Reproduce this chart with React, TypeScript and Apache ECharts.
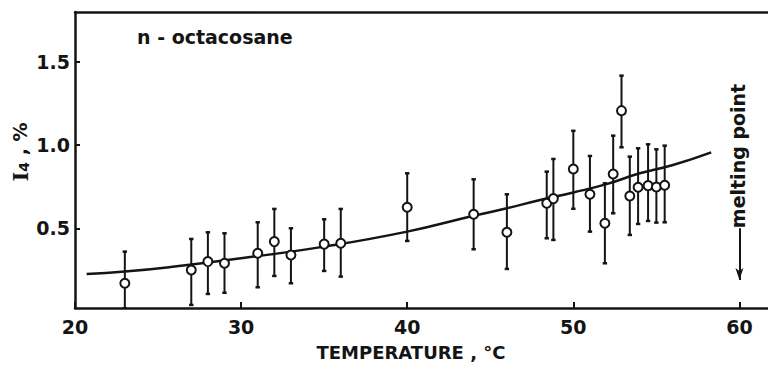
import React, { useEffect, useRef } from "react";
import * as echarts from "echarts";

const temps = [23, 27, 28, 29, 31, 32, 33, 35, 36, 40, 44, 46, 48.4, 48.8, 50, 51, 51.9, 52.4, 52.9, 53.4, 53.9, 54.5, 55, 55.5];
const values = [0.17, 0.25, 0.3, 0.29, 0.35, 0.42, 0.34, 0.405, 0.41, 0.626, 0.584, 0.476, 0.65, 0.678, 0.856, 0.704, 0.53, 0.826, 1.206, 0.694, 0.746, 0.756, 0.748, 0.758];
const errLow = [0.02, 0.04, 0.106, 0.113, 0.146, 0.214, 0.17, 0.244, 0.21, 0.424, 0.374, 0.256, 0.44, 0.43, 0.617, 0.48, 0.29, 0.59, 0.986, 0.46, 0.526, 0.544, 0.534, 0.536];
const errHigh = [0.36, 0.436, 0.476, 0.47, 0.536, 0.616, 0.5, 0.554, 0.616, 0.83, 0.794, 0.704, 0.84, 0.916, 1.085, 0.934, 0.77, 1.056, 1.416, 0.93, 0.98, 1.004, 0.974, 0.996];

const fitT = [20.7, 23, 26, 30, 35, 40, 44, 46, 48, 50, 52, 54, 56, 58.3];
const fitV = [0.226, 0.24, 0.27, 0.32, 0.39, 0.48, 0.575, 0.62, 0.67, 0.715, 0.765, 0.83, 0.88, 0.956];

const xTicks = [20, 30, 40, 50, 60];
const yTicks = [0.5, 1.0, 1.5];
const meltingT = 60;
const meltingArrow = [0.5, 0.19];

const FONT = "DejaVu Sans";
const INK = "#141414";

export default function App() {
  const ref = useRef<HTMLDivElement>(null);
  useEffect(() => {
    const chart = echarts.init(ref.current!, null, { renderer: "svg" });
    const errData = temps.map((t, i) => [t, errLow[i], errHigh[i]]);
    chart.setOption({
      animation: false,
      backgroundColor: "#fff",
      grid: { left: 75, right: 0, top: 12, bottom: 65 },
      xAxis: [
        {
          type: "value",
          min: 20,
          max: 61.72,
          interval: 10,
          axisLine: { show: true, lineStyle: { color: INK, width: 2.5 } },
          axisTick: { show: true, inside: true, length: 6, lineStyle: { color: INK, width: 2 }, customValues: xTicks },
          axisLabel: { color: INK, fontFamily: FONT, fontWeight: "bold", fontSize: 19, margin: 9, customValues: xTicks },
          splitLine: { show: false },
        },
        {
          type: "value",
          position: "top",
          min: 20,
          max: 61.72,
          axisLine: { show: true, lineStyle: { color: INK, width: 2.5 } },
          axisTick: { show: false },
          axisLabel: { show: false },
          splitLine: { show: false },
        },
      ],
      yAxis: {
        type: "value",
        min: 0.0216,
        max: 1.798,
        axisLine: { show: true, lineStyle: { color: INK, width: 2.5 } },
        axisTick: { show: true, inside: true, length: 5, lineStyle: { color: INK, width: 2 }, customValues: yTicks },
        axisLabel: {
          color: INK,
          fontFamily: FONT,
          fontWeight: "bold",
          fontSize: 19,
          margin: 5,
          customValues: yTicks,
          formatter: (v: number) => v.toFixed(1),
        },
        splitLine: { show: false },
      },
      series: [
        {
          type: "custom",
          data: errData,
          clip: true,
          z: 2,
          renderItem: (params: any, api: any) => {
            const x = api.value(0);
            const top = api.coord([x, api.value(2)]);
            const bot = api.coord([x, api.value(1)]);
            const cap = 2.2;
            return {
              type: "group",
              children: [
                { type: "line", shape: { x1: top[0], y1: top[1], x2: bot[0], y2: bot[1] }, style: { stroke: INK, lineWidth: 2 } },
                { type: "line", shape: { x1: top[0] - cap, y1: top[1], x2: top[0] + cap, y2: top[1] }, style: { stroke: INK, lineWidth: 2.5 } },
                { type: "line", shape: { x1: bot[0] - cap, y1: bot[1], x2: bot[0] + cap, y2: bot[1] }, style: { stroke: INK, lineWidth: 2.5 } },
              ],
            };
          },
        },
        {
          type: "line",
          data: fitT.map((t, i) => [t, fitV[i]]),
          smooth: true,
          showSymbol: false,
          symbol: "none",
          z: 3,
          lineStyle: { color: INK, width: 2.5 },
          markLine: {
            silent: true,
            symbol: ["none", "arrow"],
            symbolSize: [6, 12],
            label: { show: false },
            lineStyle: { color: INK, width: 2, type: "solid" },
            data: [[{ coord: [meltingT, meltingArrow[0]] }, { coord: [meltingT, meltingArrow[1]] }]],
          },
        },
        {
          type: "scatter",
          data: temps.map((t, i) => [t, values[i]]),
          symbol: "circle",
          symbolSize: 9,
          z: 4,
          itemStyle: { color: "#fff", borderColor: INK, borderWidth: 2, opacity: 1 },
        },
      ],
      graphic: [
        {
          type: "text",
          left: 137,
          top: 27,
          style: { text: "n - octacosane", fill: INK, font: `bold 19px "${FONT}"` },
        },
        {
          type: "text",
          x: 411,
          y: 352,
          style: { text: "TEMPERATURE , °C", fill: INK, font: `bold 18px "${FONT}"`, align: "center", verticalAlign: "middle" },
        },
        {
          type: "text",
          x: 20,
          y: 152,
          rotation: Math.PI / 2,
          style: {
            text: "{i|I}{s|4}{t| , %}",
            align: "center",
            verticalAlign: "middle",
            rich: {
              i: { fill: INK, fontFamily: "DejaVu Serif", fontWeight: "bold", fontSize: 21, verticalAlign: "middle" },
              s: { fill: INK, fontFamily: FONT, fontWeight: "bold", fontSize: 14, verticalAlign: "bottom" },
              t: { fill: INK, fontFamily: FONT, fontWeight: "bold", fontSize: 19, verticalAlign: "middle" },
            },
          },
        },
        {
          type: "text",
          x: 738,
          y: 156,
          rotation: Math.PI / 2,
          style: { text: "melting point", fill: INK, font: `bold 19px "${FONT}"`, align: "center", verticalAlign: "middle" },
        },
      ],
    });
    return () => chart.dispose();
  }, []);
  return (
    <div
      ref={ref}
      style={{ position: "fixed", left: 0, top: 0, width: 768, height: 373, background: "#fff" }}
    />
  );
}
